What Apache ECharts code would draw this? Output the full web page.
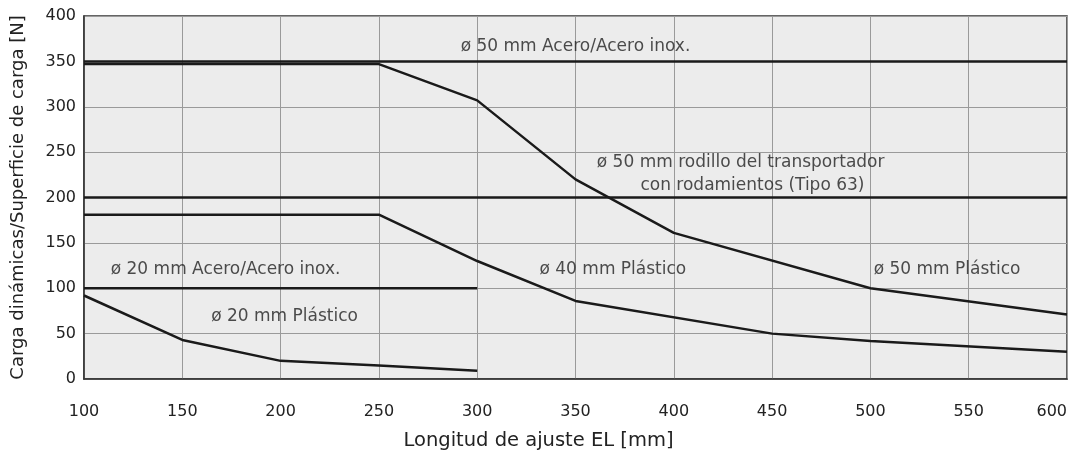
<!DOCTYPE html>
<html>
<head>
<meta charset="utf-8">
<script src="https://cdn.jsdelivr.net/npm/echarts@6/dist/echarts.min.js"></script>
<style>
  html, body { margin: 0; padding: 0; background: #fff; }
  #chart { width: 1073px; height: 453px; }
</style>
</head>
<body>
<div id="chart"></div>
<script>
// Longitud de ajuste EL [mm] vs. carga [N]
const xTicks = [100, 150, 200, 250, 300, 350, 400, 450, 500, 550, 600];

const acero50X = [100, 600];
const acero50Y = [350, 350];

const plastico50X = [100, 250, 300, 350, 400, 500, 600];
const plastico50Y = [347, 347, 307, 220, 161, 100, 71];

const rodillo50X = [100, 600];
const rodillo50Y = [200, 200];

const plastico40X = [100, 250, 300, 350, 450, 500, 600];
const plastico40Y = [181, 181, 130, 86, 50, 42, 30];

const acero20X = [100, 300];
const acero20Y = [100, 100];

const plastico20X = [100, 150, 200, 250, 300];
const plastico20Y = [92, 43, 20, 15, 9];

// series labels, placed in data units
const labelText = [
  'ø 50 mm Acero/Acero inox.',
  'ø 50 mm rodillo del transportador',
  'con rodamientos (Tipo 63)',
  'ø 20 mm Acero/Acero inox.',
  'ø 20 mm Plástico',
  'ø 40 mm Plástico',
  'ø 50 mm Plástico'
];
const labelX = [350, 434, 440, 172, 202, 369, 539];
const labelY = [366, 238, 213, 121, 69, 121, 121];

const FONT = 'DejaVu Sans';

const pairs = (xs, ys) => xs.map((x, i) => [x, ys[i]]);

const lineSeries = (name, xs, ys) => ({
  name: name,
  type: 'line',
  data: pairs(xs, ys),
  symbol: 'none',
  silent: true,
  lineStyle: { color: '#1a1a1a', width: 2.5 },
  z: 3
});

const chart = echarts.init(document.getElementById('chart'));

chart.setOption({
  animation: false,
  textStyle: { fontFamily: FONT },
  grid: {
    left: 84,
    right: 6,
    top: 16,
    bottom: 74,
    outerBoundsMode: 'none',
    show: true,
    backgroundColor: '#ececec',
    borderColor: '#333',
    borderWidth: 1.5
  },
  xAxis: {
    type: 'value',
    min: 100,
    max: 600,
    interval: 50,
    name: 'Longitud de ajuste EL [mm]',
    nameLocation: 'middle',
    nameGap: 52,
    nameTextStyle: { fontSize: 19.5, color: '#222', fontFamily: FONT, padding: [0, 74, 0, 0] },
    axisLine: { show: true, lineStyle: { color: '#333', width: 1.5 } },
    axisTick: { show: false },
    axisLabel: {
      fontSize: 16, color: '#222', margin: 25, fontFamily: FONT,
      alignMaxLabel: 'right',
      formatter: v => xTicks.includes(v) ? String(v) : ''
    },
    splitLine: { show: true, lineStyle: { color: '#9a9a9a', width: 1 } }
  },
  yAxis: {
    type: 'value',
    min: 0,
    max: 400,
    interval: 50,
    name: 'Carga dinámicas/Superficie de carga [N]',
    nameLocation: 'middle',
    nameRotate: 90,
    nameGap: 57,
    nameTextStyle: { fontSize: 18, color: '#222', fontFamily: FONT },
    axisLine: { show: true, lineStyle: { color: '#333', width: 1.5 } },
    axisTick: { show: false },
    axisLabel: { fontSize: 16, color: '#222', margin: 8, fontFamily: FONT },
    splitLine: { show: true, lineStyle: { color: '#9a9a9a', width: 1 } }
  },
  series: [
    lineSeries('ø 50 mm Acero/Acero inox.', acero50X, acero50Y),
    lineSeries('ø 50 mm Plástico', plastico50X, plastico50Y),
    lineSeries('ø 50 mm rodillo', rodillo50X, rodillo50Y),
    lineSeries('ø 40 mm Plástico', plastico40X, plastico40Y),
    lineSeries('ø 20 mm Acero/Acero inox.', acero20X, acero20Y),
    lineSeries('ø 20 mm Plástico', plastico20X, plastico20Y),
    {
      name: 'etiquetas',
      type: 'scatter',
      silent: true,
      symbolSize: 1,
      itemStyle: { color: 'rgba(0,0,0,0)' },
      data: labelText.map((t, i) => ({ name: t, value: [labelX[i], labelY[i]] })),
      label: {
        show: true,
        position: 'inside',
        formatter: p => p.name,
        fontSize: 17,
        color: '#222',
        fontFamily: FONT
      },
      z: 4
    }
  ]
});
</script>
</body>
</html>
